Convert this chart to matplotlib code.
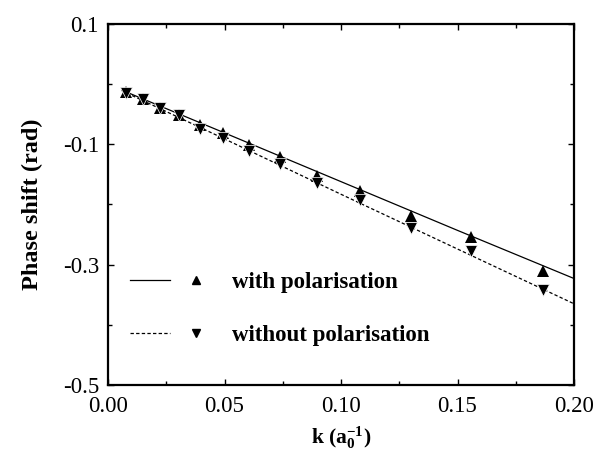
import matplotlib
matplotlib.use("Agg")
import matplotlib.pyplot as plt
from matplotlib.lines import Line2D
from matplotlib.legend_handler import HandlerTuple
from matplotlib.ticker import MultipleLocator, FormatStrFormatter

# ---- data ----
k_points = [0.0079, 0.0150, 0.0224, 0.0304, 0.0393, 0.0493, 0.0607,
            0.0740, 0.0897, 0.1080, 0.1300, 0.1557, 0.1867]
with_pol = [-0.013, -0.024, -0.039, -0.051, -0.068, -0.081, -0.101,
            -0.121, -0.153, -0.177, -0.219, -0.254, -0.311]
without_pol = [-0.014, -0.025, -0.040, -0.052, -0.074, -0.089, -0.111,
               -0.133, -0.165, -0.192, -0.239, -0.278, -0.342]

k_line = [0.006, 0.05, 0.10, 0.15, 0.20]
with_line = [-0.010, -0.081, -0.162, -0.243, -0.323]
without_line = [-0.011, -0.091, -0.183, -0.274, -0.365]

labels = ["with polarisation", "without polarisation"]
xticks = [0.00, 0.05, 0.10, 0.15, 0.20]
yticks = [0.1, -0.1, -0.3, -0.5]

plt.rcParams['font.family'] = ['Liberation Serif', 'DejaVu Serif']
plt.rcParams['mathtext.fontset'] = 'custom'
plt.rcParams['mathtext.rm'] = 'Liberation Serif:bold'
plt.rcParams['mathtext.it'] = 'Liberation Serif:bold'
plt.rcParams['mathtext.bf'] = 'Liberation Serif:bold'
plt.rcParams['axes.unicode_minus'] = False

fig = plt.figure(figsize=(6.08, 4.53), dpi=100)
ax = fig.add_axes([108/608, 1-385/453, 466/608, 361/453])

dash = (0, (2.7, 1.8))
ax.plot(k_line, with_line, color='black', lw=0.9, ls='-')
ax.plot(k_line, without_line, color='black', lw=0.9, ls=dash)
ax.plot(k_points, with_pol, ls='none', marker='^', ms=8.5, color='black',
        mec='black', mew=0)
ax.plot(k_points, without_pol, ls='none', marker='v', ms=8.5, color='black',
        mec='white', mew=0.5)

ax.set_xlim(0, 0.2)
ax.set_ylim(-0.5, 0.1)
ax.set_xticks(xticks)
ax.set_yticks(yticks)
ax.xaxis.set_minor_locator(MultipleLocator(0.025))
ax.yaxis.set_minor_locator(MultipleLocator(0.1))
ax.xaxis.set_major_formatter(FormatStrFormatter('%.2f'))
ax.yaxis.set_major_formatter(FormatStrFormatter('%.1f'))
ax.tick_params(which='both', direction='in', top=True, right=True,
               width=1.0, labelsize=16.5)
ax.tick_params(which='major', length=4)
ax.tick_params(which='minor', length=3)
ax.tick_params(axis='x', which='major', pad=8)
ax.tick_params(axis='y', which='major', pad=6.5)
for s in ax.spines.values():
    s.set_linewidth(1.6)

ax.set_ylabel('Phase shift (rad)', fontsize=17.5, fontweight='bold', labelpad=14)
ax.set_xlabel(r'k (a$_0^{-1}$)', fontsize=15.5, fontweight='bold', labelpad=5)

h1 = (Line2D([], [], color='black', lw=0.9, ls='-'),
      Line2D([], [], ls='none', marker='^', ms=6, color='black'))
h2 = (Line2D([], [], color='black', lw=0.9, ls=dash),
      Line2D([], [], ls='none', marker='v', ms=6, color='black'))
ax.legend([h1, h2], labels, handler_map={tuple: HandlerTuple(ndivide=None, pad=0.3)},
          loc='center left', bbox_to_anchor=(22/466, (385-309)/361), frameon=False,
          borderpad=0, borderaxespad=0, handlelength=3.75, handletextpad=0.7,
          labelspacing=1.4, prop={'size': 16.5, 'weight': 'bold'})

fig.savefig('out.png', dpi=100)
